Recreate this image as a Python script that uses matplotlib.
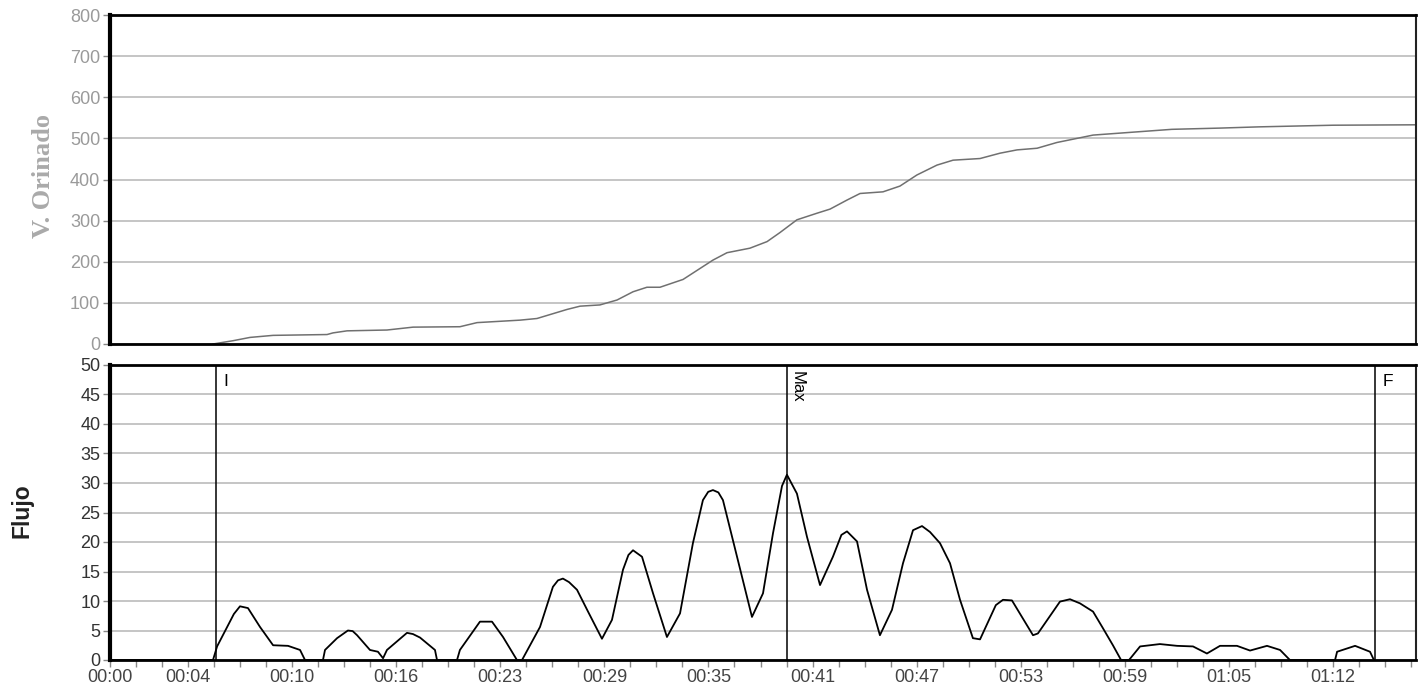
import numpy as np
import matplotlib
matplotlib.use("Agg")
import matplotlib.pyplot as plt

# tiempo en minutos de la etiqueta, volumen acumulado
vol_t = [6.07, 7.25, 8.25, 9.61, 12.79, 13.14, 13.97, 16.32, 17.86, 20.62,
         21.63, 24.16, 25.16, 26.93, 27.70, 28.87, 29.88, 30.82, 31.64, 32.41,
         33.77, 35.53, 36.36, 37.71, 38.72, 39.48, 40.48, 41.66, 42.43, 43.43,
         44.20, 45.55, 46.55, 47.55, 48.73, 49.68, 51.27, 52.45, 53.45, 54.63,
         55.80, 56.75, 57.93, 60.58, 62.58, 65.41, 67.71, 72.07, 76.96]
vol_v = [0, 8, 16, 21, 23, 27, 32, 34, 41, 42,
         52, 58, 62, 84, 92, 95, 107, 127, 138, 138,
         157, 204, 222, 233, 249, 271, 302, 318, 328, 350,
         366, 370, 384, 411, 435, 447, 451, 464, 472, 476,
         490, 498, 508, 516, 522, 525, 528, 532, 533]

# flujo
flow_t = [0.00, 6.07, 6.31, 7.30, 7.66, 8.13, 8.84, 9.61, 10.49, 11.20, 11.49,
          12.55, 12.67, 13.38, 14.02, 14.30, 14.56, 15.32, 15.79, 16.09, 16.32,
          17.50, 17.85, 18.27, 19.15, 19.27, 20.45, 20.62, 21.80, 22.51, 23.16,
          23.98, 24.28, 25.34, 26.10, 26.40, 26.69, 27.05, 27.52, 28.17, 28.99,
          29.58, 30.23, 30.55, 30.82, 31.35, 32.00, 32.82, 33.59, 34.35, 34.94,
          35.25, 35.53, 35.85, 36.12, 36.95, 37.83, 38.48, 39.07, 39.60, 39.89,
          40.48, 41.07, 41.84, 42.60, 43.10, 43.43, 44.02, 44.61, 45.37, 46.08,
          46.73, 47.32, 47.85, 48.32, 48.91, 49.50, 50.09, 50.85, 51.27, 52.20,
          52.62, 53.15, 54.39, 54.68, 55.98, 56.57, 57.16, 57.93, 58.51, 59.10,
          59.58, 60.05, 60.70, 61.87, 62.88, 63.82, 64.64, 65.41, 66.41, 67.18,
          68.18, 68.95, 69.53, 72.19, 72.31, 73.37, 74.25, 74.48]
flow_v = [0, 0, 2.3, 7.8, 9.1, 8.8, 5.6, 2.5, 2.4, 1.7, 0,
          0, 1.7, 3.7, 5.0, 4.9, 4.2, 1.7, 1.4, 0.3, 1.7,
          4.6, 4.4, 3.8, 1.7, 0, 0, 1.7, 6.5, 6.5, 3.9,
          0, 0, 5.6, 12.4, 13.5, 13.8, 13.2, 11.9, 8.2, 3.6,
          6.8, 15.3, 17.8, 18.6, 17.5, 11.3, 3.9, 7.9, 19.8, 27.1,
          28.5, 28.8, 28.4, 27.1, 17.5, 7.3, 11.3, 21.5, 29.5, 31.4,
          28.2, 20.9, 12.7, 17.5, 21.2, 21.8, 20.1, 11.9, 4.2, 8.5,
          16.4, 22.0, 22.7, 21.7, 19.8, 16.4, 10.2, 3.7, 3.5, 9.3,
          10.2, 10.1, 4.2, 4.5, 9.9, 10.3, 9.6, 8.2, 5.4, 2.5,
          0, 0, 2.3, 2.7, 2.4, 2.3, 1.1, 2.4, 2.4, 1.6,
          2.4, 1.7, 0, 0, 1.4, 2.4, 1.4, 0]

# marcas I, Max, F
mark_t = [6.25, 39.87, 74.54]
mark_lbl = ["I", "Max", "F"]

TICK_STEP = 92 / 60.0
N_TICKS = 51
major_idx = [0, 3, 7, 11, 15, 19, 23, 27, 31, 35, 39, 43, 47]
major_lbl = ["00:00", "00:04", "00:10", "00:16", "00:23", "00:29", "00:35",
             "00:41", "00:47", "00:53", "00:59", "01:05", "01:12"]
XMAX = 76.96

W, H = 1427, 695


def style_axes(ax, labcolor):
    for s in ["top", "bottom"]:
        ax.spines[s].set_linewidth(2)
        ax.spines[s].set_color("black")
    ax.spines["left"].set_linewidth(3)
    ax.spines["left"].set_color("black")
    ax.spines["right"].set_linewidth(1.5)
    ax.spines["right"].set_color("#222222")
    ax.grid(axis="y", color="#bbbbbb", lw=1.2)
    ax.set_axisbelow(True)
    ax.tick_params(axis="y", length=5, width=1, color="#888888",
                   labelsize=13, labelcolor=labcolor, pad=2)


def main():
    plt.rcParams["font.family"] = ["Liberation Sans", "DejaVu Sans"]
    fig = plt.figure(figsize=(W / 100, H / 100), dpi=100)
    fig.patch.set_facecolor("white")

    ax1 = fig.add_axes([110 / W, 1 - 344 / H, 1306 / W, 329 / H])
    ax2 = fig.add_axes([110 / W, 1 - 660 / H, 1306 / W, 295 / H])

    # volumen
    ax1.plot(vol_t, vol_v, color="#707070", lw=1.1)
    ax1.set_xlim(0, XMAX)
    ax1.set_ylim(0, 800)
    ax1.set_yticks(np.arange(0, 801, 100))
    ax1.set_xticks([])
    style_axes(ax1, "#9a9a9a")

    # flujo
    ax2.plot(flow_t, flow_v, color="black", lw=1.3)
    for t, lb in zip(mark_t, mark_lbl):
        ax2.axvline(t, color="black", lw=1.1)
        if lb == "Max":
            ax2.text(t + 0.2, 49, lb, rotation=-90, ha="left", va="top",
                     fontsize=12)
        else:
            ax2.text(t + 0.45, 48.5, lb, ha="left", va="top", fontsize=12.5)
    ax2.set_xlim(0, XMAX)
    ax2.set_ylim(0, 50)
    ax2.set_yticks(np.arange(0, 51, 5))
    ticks = np.arange(N_TICKS) * TICK_STEP
    ax2.set_xticks(ticks[major_idx])
    ax2.set_xticklabels(major_lbl)
    ax2.set_xticks(ticks, minor=True)
    ax2.tick_params(axis="x", which="both", length=5, width=1, pad=1.5,
                    color="#888888", labelsize=13, labelcolor="#444444")
    style_axes(ax2, "#333333")

    fig.text(44 / W, 1 - 176 / H, "V. Orinado", rotation=90, ha="center",
             va="center", fontsize=19, fontweight="bold", color="#aaaaaa",
             family="Liberation Serif")
    fig.text(22 / W, 1 - 511 / H, "Flujo", rotation=90, ha="center",
             va="center", fontsize=16.5, fontweight="bold", color="#222222")

    fig.savefig("out.png", dpi=100, facecolor="white")


if __name__ == "__main__":
    main()
